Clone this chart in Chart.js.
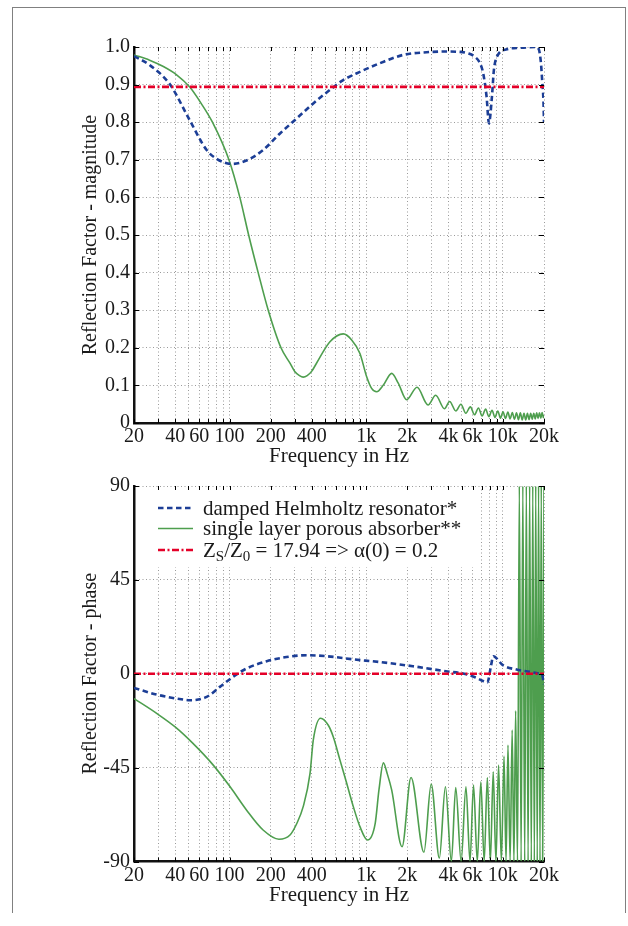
<!DOCTYPE html>
<html>
<head>
<meta charset="utf-8">
<script src="https://cdn.jsdelivr.net/npm/chart.js@4.4.0/dist/chart.umd.min.js"></script>
<style>
body { margin: 0; background: #fff; }
#page { position: relative; width: 628px; height: 926px; overflow: hidden; }
#frame { position: absolute; left: 12px; top: 7px; width: 612px; height: 905px; border: 1.5px solid #808080; border-bottom: none; }
#magChart { position: absolute; left: 0; top: 0; }
#phaseChart { position: absolute; left: 0; top: 470px; }
</style>
</head>
<body>
<div id="page">
  <div id="frame"></div>
  <canvas id="magChart" width="628" height="470"></canvas>
  <canvas id="phaseChart" width="628" height="456"></canvas>
</div>
<script>
// ---------- DATA
var gridFreqs = [20, 30, 40, 50, 60, 70, 80, 90, 100, 200, 300, 400, 500, 600, 700, 800, 900,
                 1000, 2000, 3000, 4000, 5000, 6000, 7000, 8000, 9000, 10000, 20000];
var labelFreqs = [20, 40, 60, 100, 200, 400, 1000, 2000, 4000, 6000, 10000, 20000];
var labelTexts = ['20', '40', '60', '100', '200', '400', '1k', '2k', '4k', '6k', '10k', '20k'];

var seriesNames = ['damped Helmholtz resonator*', 'single layer porous absorber**', 'Z_S/Z_0 = 17.94 => α(0) = 0.2'];

// reference line  Z_S/Z_0 = 17.94
var refFreq  = [20, 20000];
var refMag   = [0.894, 0.894];
var refPhase = [0, 0];

// damped Helmholtz resonator - magnitude
var helmMagFreq = [20, 26, 36.7, 51, 68, 81, 104, 133, 176, 234, 310, 410, 543, 679, 900, 1262, 1867, 2767,
                   3665, 4850, 5570, 6240, 6800, 7180, 7600, 7910, 8320, 8600, 9200, 10700, 13400, 17600,
                   18400, 19000, 19400, 19800, 20000];
var helmMag = [0.976, 0.952, 0.900, 0.806, 0.726, 0.702, 0.689, 0.698, 0.726, 0.770, 0.810, 0.850, 0.886,
               0.912, 0.934, 0.957, 0.979, 0.986, 0.988, 0.987, 0.983, 0.974, 0.957, 0.930, 0.868, 0.797,
               0.868, 0.939, 0.979, 0.994, 0.998, 1.0, 0.992, 0.957, 0.91, 0.86, 0.80];

// single layer porous absorber - magnitude
var porousMagFreq = [20, 26, 32.8, 41, 51, 62, 75, 99, 119, 138, 162, 192, 238, 277, 300, 325, 346, 370, 400,
                     433, 543, 680, 783, 900, 1008, 1096, 1193, 1336, 1536, 1716, 1977, 2355, 2835, 3225,
                     3740, 4080, 4530, 4930, 5360, 5780, 6200, 6630, 7050, 7480, 7900, 8330, 8750, 9180,
                     9600, 10030, 10450, 10880, 11300, 11730, 12150, 12580, 13000, 13430, 13850, 14280,
                     14700, 15130, 15550, 15980, 16400, 16830, 17250, 17680, 18100, 18530, 18950, 19380,
                     19800, 20000];
var porousMag = [0.979, 0.965, 0.948, 0.926, 0.894, 0.850, 0.800, 0.700, 0.600, 0.500, 0.400, 0.300, 0.200,
                 0.159, 0.137, 0.126, 0.122, 0.126, 0.138, 0.159, 0.216, 0.237, 0.221, 0.185, 0.123, 0.092,
                 0.083, 0.101, 0.132, 0.106, 0.062, 0.095, 0.048, 0.074, 0.038, 0.057, 0.032, 0.050, 0.026,
                 0.043, 0.022, 0.040, 0.019, 0.037, 0.017, 0.034, 0.015, 0.032, 0.013, 0.030, 0.012, 0.029,
                 0.011, 0.028, 0.010, 0.027, 0.009, 0.027, 0.008, 0.026, 0.008, 0.026, 0.009, 0.026, 0.010,
                 0.026, 0.011, 0.027, 0.012, 0.027, 0.013, 0.028, 0.014, 0.022];

// damped Helmholtz resonator - phase (degrees)
var helmPhaseFreq = [20, 29.3, 45.9, 51, 68, 85, 106, 133, 187, 261, 368, 515, 805, 1262, 2196, 3825, 5400,
                     6300, 7000, 7700, 8200, 8500, 10000, 12600, 15800, 18500, 19500, 20000];
var helmPhase = [-6.8, -10, -12.4, -12.7, -11.1, -6.3, -1.5, 2.5, 6, 8, 8.9, 8.4, 6.9, 5.6, 3.6, 1.2, -0.2,
                 -1.8, -3.2, -4.2, 4, 8.4, 4.1, 2, 0.9, 0, -1, -5];

// single layer porous absorber - phase (degrees)
var porousPhaseFreq = [20, 29.3, 40, 54, 76, 101, 133, 176, 230, 277, 310, 346, 388, 410, 464, 528, 574, 643,
                       720, 805, 900, 1023, 1164, 1240, 1336, 1424, 1536, 1830, 2128, 2645, 2990, 3430, 3800,
                       4200, 4520, 4950, 5370, 5750, 6100, 6500, 6900, 7300, 7700, 8100, 8500, 8900, 9300,
                       9750, 10200, 10550, 10900, 11300, 11700, 12050, 12400, 12800, 13200, 13600, 14000,
                       14450, 14850, 15300, 15700, 16150, 16550, 17000, 17400, 17850, 18250, 18700, 19100,
                       19550, 20000];
var porousPhase = [-11.9, -19, -25.5, -33.4, -43.8, -54.2, -65.3, -74.9, -79.3, -77.3, -71.9, -63.7, -47.9,
                   -31.8, -21.3, -24.7, -30.2, -41.4, -52.5, -63.7, -73.3, -79.7, -71.7, -55.7, -42.7, -47.8,
                   -55.7, -82.9, -49.7, -85.6, -52.9, -88.4, -54.2, -90, -54.6, -90, -54.2, -90, -53.3, -90,
                   -51.8, -90, -49.7, -90, -47, -90, -43.8, -90, -39.5, -90, -34.2, -90, -27, -90, -17.8, -90,
                   90, -90, 90, -90, 90, -90, 90, -90, 90, -90, 90, -90, 90, -90, 90, -90, 90];

// ---------- STYLE
var serif = 'Liberation Serif';
var blueCol  = 'rgb(28, 62, 150)';
var greenCol = 'rgb(78, 158, 78)';
var redCol   = 'rgb(228, 0, 40)';
var gridCol  = '#9a9a9a';

function toPoints(xs, ys) {
    var pts = [];
    for (var i = 0; i < xs.length; i++) {
        pts.push({x: xs[i], y: ys[i]});
    }
    return pts;
}

function makeDatasets(helmF, helmV, porF, porV, refV) {
    return [{
        label: seriesNames[0],
        data: toPoints(helmF, helmV),
        borderColor: blueCol,
        borderWidth: 2.6,
        borderDash: [5.5, 3.5],
        cubicInterpolationMode: 'monotone',
        pointRadius: 0,
        order: 1
    }, {
        label: seriesNames[1],
        data: toPoints(porF, porV),
        borderColor: greenCol,
        borderWidth: 1.6,
        cubicInterpolationMode: 'monotone',
        pointRadius: 0,
        order: 2
    }, {
        label: seriesNames[2],
        data: toPoints(refFreq, refV),
        borderColor: redCol,
        borderWidth: 2.6,
        borderDash: [7, 2.5, 2, 2.5],
        pointRadius: 0,
        order: 0
    }];
}

// small inward tick marks on all 4 sides
var innerTicks = {
    id: 'innerTicks',
    afterDraw: function(chart) {
        var ctx = chart.ctx, a = chart.chartArea;
        var xs = chart.scales.x, ys = chart.scales.y;
        ctx.save();
        ctx.strokeStyle = '#000';
        ctx.lineWidth = 1;
        ctx.beginPath();
        xs.ticks.forEach(function(t) {
            var px = Math.round(xs.getPixelForValue(t.value)) + 0.5;
            ctx.moveTo(px, a.top); ctx.lineTo(px, a.top + 4);
            ctx.moveTo(px, a.bottom); ctx.lineTo(px, a.bottom - 4);
        });
        ys.ticks.forEach(function(t) {
            var py = Math.round(ys.getPixelForValue(t.value)) + 0.5;
            ctx.moveTo(a.left, py); ctx.lineTo(a.left + 5, py);
            ctx.moveTo(a.right, py); ctx.lineTo(a.right - 5, py);
        });
        ctx.stroke();
        ctx.restore();
    }
};

// legend inside the phase plot (needs subscripts, so drawn by hand)
var boxLegend = {
    id: 'boxLegend',
    beforeDatasetsDraw: function(chart) {
        var ctx = chart.ctx, a = chart.chartArea;
        var x0 = a.left + 3, y0 = a.top + 3;
        ctx.save();
        ctx.fillStyle = '#fff';
        ctx.fillRect(x0, y0, 343, 78);
        var rowsY = [y0 + 19, y0 + 39.5, y0 + 61];
        chart.data.datasets.forEach(function(ds, i) {
            var y = rowsY[i];
            ctx.strokeStyle = ds.borderColor;
            ctx.lineWidth = ds.borderWidth;
            ctx.setLineDash(ds.borderDash || []);
            ctx.beginPath();
            ctx.moveTo(x0 + 21, y);
            ctx.lineTo(x0 + 56, y);
            ctx.stroke();
            ctx.setLineDash([]);
            ctx.fillStyle = '#1a1a1a';
            ctx.textBaseline = 'middle';
            ctx.textAlign = 'left';
            var tx = x0 + 66;
            if (i < 2) {
                ctx.font = '21px "' + serif + '"';
                ctx.fillText(ds.label, tx, y + 1);
            } else {
                // Z_S/Z_0 with subscripts
                var parts = [['Z', 0], ['S', 1], ['/Z', 0], ['0', 1], [' = 17.94 => α(0) = 0.2', 0]];
                parts.forEach(function(p) {
                    ctx.font = (p[1] ? '15px "' : '21px "') + serif + '"';
                    ctx.fillText(p[0], tx, y + 1 + (p[1] ? 6 : 0));
                    tx += ctx.measureText(p[0]).width;
                });
            }
        });
        ctx.restore();
    }
};

function xAxis(heightPx, titlePadBottom) {
    return {
        type: 'logarithmic',
        min: 20,
        max: 20000,
        afterFit: function(scale) { scale.height = heightPx; },
        afterBuildTicks: function(scale) {
            scale.ticks = gridFreqs.map(function(v) { return {value: v}; });
        },
        ticks: {
            autoSkip: false,
            maxRotation: 0,
            minRotation: 0,
            padding: 2,
            color: '#1a1a1a',
            font: {family: serif, size: 20},
            callback: function(value) {
                var k = labelFreqs.indexOf(value);
                return k >= 0 ? labelTexts[k] : '';
            }
        },
        grid: { color: gridCol, lineWidth: 1, drawTicks: false },
        border: { display: true, color: '#111', width: 2.5, dash: [1, 2.5] },
        title: {
            display: true,
            text: 'Frequency in Hz',
            color: '#1a1a1a',
            font: {family: serif, size: 21},
            padding: {top: 0, bottom: titlePadBottom}
        }
    };
}

function yAxis(min, max, step, titleText, fmt) {
    return {
        type: 'linear',
        min: min,
        max: max,
        afterFit: function(scale) { scale.width = 134; },
        ticks: {
            stepSize: step,
            padding: 4,
            color: '#1a1a1a',
            font: {family: serif, size: 20},
            callback: fmt
        },
        grid: { color: gridCol, lineWidth: 1, drawTicks: false },
        border: { display: true, color: '#111', width: 2.5, dash: [1, 2.5] },
        title: {
            display: true,
            text: titleText,
            color: '#1a1a1a',
            font: {family: serif, size: 20},
            padding: {top: 79, bottom: 0}
        }
    };
}

// ---------- MAGNITUDE CHART
var magCtx = document.getElementById('magChart').getContext('2d');
var magChart = new Chart(magCtx, {
    type: 'line',
    data: { datasets: makeDatasets(helmMagFreq, helmMag, porousMagFreq, porousMag, refMag) },
    options: {
        responsive: false,
        animation: false,
        devicePixelRatio: 1,
        layout: { padding: {left: 0, top: 47, right: 84, bottom: 0} },
        plugins: { legend: { display: false }, tooltip: { enabled: false } },
        scales: {
            x: xAxis(47, 1),
            y: yAxis(0, 1, 0.1, 'Reflection Factor - magnitude', function(v) {
                if (Math.abs(v) < 1e-9) return '0';
                return v.toFixed(1);
            })
        }
    },
    plugins: [innerTicks]
});

// ---------- PHASE CHART
var phaseCtx = document.getElementById('phaseChart').getContext('2d');
var phaseChart = new Chart(phaseCtx, {
    type: 'line',
    data: { datasets: makeDatasets(helmPhaseFreq, helmPhase, porousPhaseFreq, porousPhase, refPhase) },
    options: {
        responsive: false,
        animation: false,
        devicePixelRatio: 1,
        layout: { padding: {left: 0, top: 16, right: 84, bottom: 0} },
        plugins: { legend: { display: false }, tooltip: { enabled: false } },
        scales: {
            x: xAxis(64.5, 18),
            y: yAxis(-90, 90, 45, 'Reflection Factor - phase', function(v) { return String(v); })
        }
    },
    plugins: [innerTicks, boxLegend]
});
</script>
</body>
</html>
